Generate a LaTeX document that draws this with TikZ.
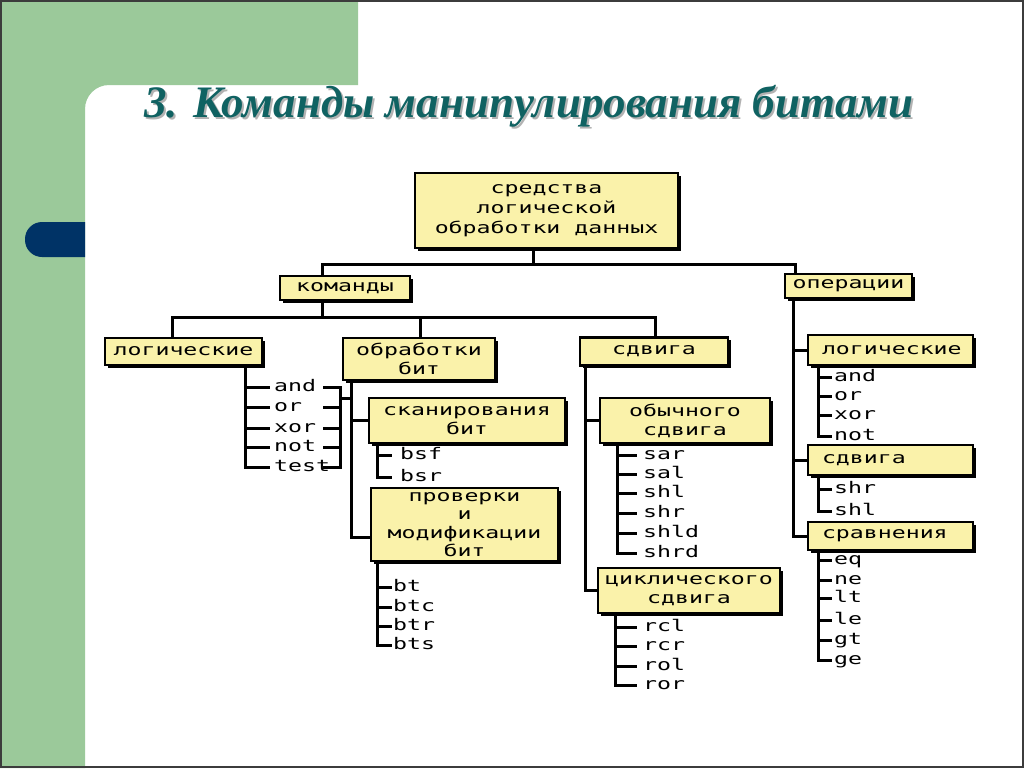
\documentclass[tikz,border=0pt]{standalone}
\usepackage{fontspec}
\setmainfont{Liberation Serif}
\newfontfamily\boxfont[FakeStretch=1.45]{DejaVu Sans Mono}
\usetikzlibrary{shadows}
\definecolor{sgreen}{RGB}{155,201,154}
\definecolor{snavy}{RGB}{0,51,102}
\definecolor{steal}{RGB}{16,98,98}
\definecolor{boxyellow}{RGB}{250,242,170}
\definecolor{frame}{RGB}{60,60,60}
\begin{document}
\begin{tikzpicture}[x=1pt,y=-1pt,
  box/.style={draw=black, line width=2.5pt, fill=boxyellow, inner sep=0pt, align=center,
    font=\boxfont\fontsize{16}{19}\selectfont,
    drop shadow={shadow xshift=2.5pt, shadow yshift=-2.5pt, fill=black, opacity=1}},
  lbox/.style={box, align=left, text width=137pt},
  leaf/.style={anchor=west, inner xsep=4pt, inner ysep=0pt, text height=8.7pt, text depth=0pt,
    font=\boxfont\fontsize{16}{19}\selectfont},
  conn/.style={line width=3pt, draw=black},
  titlefont/.style={font=\fontsize{45}{50}\selectfont\bfseries\itshape}]
% background
\useasboundingbox (0,0) rectangle (1024,768);
\fill[white] (0,0) rectangle (1024,768);
\fill[sgreen] (0,0) -- (358,0) -- (358,85) [rounded corners=24pt] -- (85,85) [sharp corners] -- (85,768) -- (0,768) -- cycle;
\begin{scope}
  \clip (0,0) rectangle (85,768);
  \fill[snavy, rounded corners=17pt] (25,222) rectangle (130,257);
\end{scope}
\draw[frame, line width=2pt] (1,1) rectangle (1023,767);
% title (with its shadow)
\node[titlefont, text=black!30, anchor=base] (titlesh) at (531,119) {3. Команды манипулирования битами};
\node[titlefont, text=steal, anchor=base] (title) at (529,117) {3. Команды манипулирования битами};
% boxes
\node[box, minimum width=263pt, minimum height=75pt, font=\boxfont\fontsize{16}{20}\selectfont] (root) at (546.5,210.5) {средства\\логической\\обработки данных};
\node[box, minimum width=130pt, minimum height=24pt] (kom) at (345,288) {команды};
\node[box, minimum width=127pt, minimum height=24pt] (op) at (848.5,286) {операции};
\node[box, minimum width=157pt, minimum height=27pt] (lc) at (183.5,351.5) {логические};
\node[box, minimum width=152pt, minimum height=42pt] (ob) at (419,359) {обработки\\бит};
\node[box, minimum width=148pt, minimum height=28pt] (sd) at (654,351.5) {сдвига};
\node[box, minimum width=196pt, minimum height=45pt] (scan) at (467,420.5) {сканирования\\бит};
\node[box, minimum width=187pt, minimum height=73pt, font=\boxfont\fontsize{16}{18.5}\selectfont] (prov) at (464.5,524.5) {проверки\\и\\модификации\\бит};
\node[box, minimum width=170pt, minimum height=45pt] (obs) at (685,420.5) {обычного\\сдвига};
\node[box, minimum width=182pt, minimum height=45pt] (cyc) at (689,590.5) {циклического\\сдвига};
\node[lbox, minimum width=165pt, minimum height=30pt] (ol) at (890.5,350) {логические};
\node[lbox, minimum width=165pt, minimum height=30pt] (os) at (890.5,460) {сдвига};
\node[lbox, minimum width=165pt, minimum height=28pt] (cmp) at (890.5,536) {сравнения};
% helper coordinates
\coordinate (bus1) at (533,264);
\coordinate (kx) at (322,0);
\coordinate (opx) at (795,0);
\coordinate (bus2) at (322,317);
\coordinate (lcx) at (172,0);
\coordinate (obx) at (420,0);
\coordinate (sdx) at (655,0);
\coordinate (lcbar) at (245,0);
\coordinate (rbl) at (323,0);
\coordinate (rbr) at (340,0);
\coordinate (lj) at (340,398);
\coordinate (obbar) at (351,537);
\coordinate (scx) at (377,0);
\coordinate (sdbar) at (585,0);
\coordinate (obsbar) at (617,0);
\coordinate (cycbar) at (615,0);
\coordinate (opbar) at (793,0);
\coordinate (olbar) at (818,0);
% top connectors
\draw[conn] (root.south -| bus1) -- (bus1);
\draw[conn] (kom.north -| kx) |- (bus1) -| (op.north -| opx);
\draw[conn] (kom.south -| kx) -- (bus2);
\draw[conn] (lc.north -| lcx) |- (bus2) -| (sd.north -| sdx);
\draw[conn] (ob.north -| obx) -- (obx |- bus2);
% logical commands
\node[leaf] (la) at (270,387) {and};
\node[leaf] (lo) at (270,407) {or};
\node[leaf] (lx) at (270,428) {xor};
\node[leaf] (ln) at (270,447) {not};
\node[leaf] (lt) at (270,467) {test};
\draw[conn] (lc.south -| lcbar) |- (lt.west);
\foreach \n in {la,lo,lx,ln} \draw[conn] (\n.west -| lcbar) -- (\n.west);
\draw[conn] (la.west -| rbl) -| (lt.west -| rbr) -- (lt.west -| rbl);
\foreach \n in {lo,lx,ln} \draw[conn] (\n.west -| rbl) -- (\n.west -| rbr);
\draw[conn] (lj) -- (lj -| obbar);
% bit processing
\draw[conn] (ob.south -| obbar) -- (obbar) -- (prov.west |- obbar);
\draw[conn] (scan.west -| obbar) -- (scan.west);
\node[leaf, inner xsep=8pt] (bsf) at (392,455) {bsf};
\node[leaf, inner xsep=8pt] (bsr) at (392,477) {bsr};
\draw[conn] (scan.south -| scx) |- (bsr.west);
\draw[conn] (bsf.west -| scx) -- (bsf.west);
\node[leaf, inner xsep=1pt] (bt) at (392,587) {bt};
\node[leaf, inner xsep=1pt] (btc) at (392,607) {btc};
\node[leaf, inner xsep=1pt] (btr) at (392,626) {btr};
\node[leaf, inner xsep=1pt] (bts) at (392,645) {bts};
\draw[conn] (prov.south -| scx) |- (bts.west);
\foreach \n in {bt,btc,btr} \draw[conn] (\n.west -| scx) -- (\n.west);
% shift commands
\draw[conn] (sd.south -| sdbar) |- (cyc.west);
\draw[conn] (obs.west -| sdbar) -- (obs.west);
\node[leaf, inner xsep=6pt] (sar) at (637,455) {sar};
\node[leaf, inner xsep=6pt] (sal) at (637,474) {sal};
\node[leaf, inner xsep=6pt] (shl) at (637,493) {shl};
\node[leaf, inner xsep=6pt] (shr) at (637,513) {shr};
\node[leaf, inner xsep=6pt] (shld) at (637,533) {shld};
\node[leaf, inner xsep=6pt] (shrd) at (637,553) {shrd};
\draw[conn] (obs.south -| obsbar) |- (shrd.west);
\foreach \n in {sar,sal,shl,shr,shld} \draw[conn] (\n.west -| obsbar) -- (\n.west);
\node[leaf, inner xsep=6pt] (rcl) at (637,627) {rcl};
\node[leaf, inner xsep=6pt] (rcr) at (637,646) {rcr};
\node[leaf, inner xsep=6pt] (rol) at (637,666) {rol};
\node[leaf, inner xsep=6pt] (ror) at (637,685) {ror};
\draw[conn] (cyc.south -| cycbar) |- (ror.west);
\foreach \n in {rcl,rcr,rol} \draw[conn] (\n.west -| cycbar) -- (\n.west);
% operations
\draw[conn] (op.south -| opbar) |- (cmp.west);
\draw[conn] (ol.west -| opbar) -- (ol.west);
\draw[conn] (os.west -| opbar) -- (os.west);
\node[leaf, inner xsep=2pt] (oand) at (832,377) {and};
\node[leaf, inner xsep=2pt] (oor) at (832,396) {or};
\node[leaf, inner xsep=2pt] (oxor) at (832,415) {xor};
\node[leaf, inner xsep=2pt] (onot) at (832,436) {not};
\draw[conn] (ol.south -| olbar) |- (onot.west);
\foreach \n in {oand,oor,oxor} \draw[conn] (\n.west -| olbar) -- (\n.west);
\node[leaf, inner xsep=2pt] (oshr) at (832,489) {shr};
\node[leaf, inner xsep=2pt] (oshl) at (832,511) {shl};
\draw[conn] (os.south -| olbar) |- (oshl.west);
\draw[conn] (oshr.west -| olbar) -- (oshr.west);
\node[leaf, inner xsep=2pt] (eq) at (832,560) {eq};
\node[leaf, inner xsep=2pt] (ne) at (832,580) {ne};
\node[leaf, inner xsep=2pt] (lt2) at (832,598) {lt};
\node[leaf, inner xsep=2pt] (le) at (832,620) {le};
\node[leaf, inner xsep=2pt] (gt) at (832,640) {gt};
\node[leaf, inner xsep=2pt] (ge) at (832,660) {ge};
\draw[conn] (cmp.south -| olbar) |- (ge.west);
\foreach \n in {eq,ne,lt2,le,gt} \draw[conn] (\n.west -| olbar) -- (\n.west);
\end{tikzpicture}
\end{document}
